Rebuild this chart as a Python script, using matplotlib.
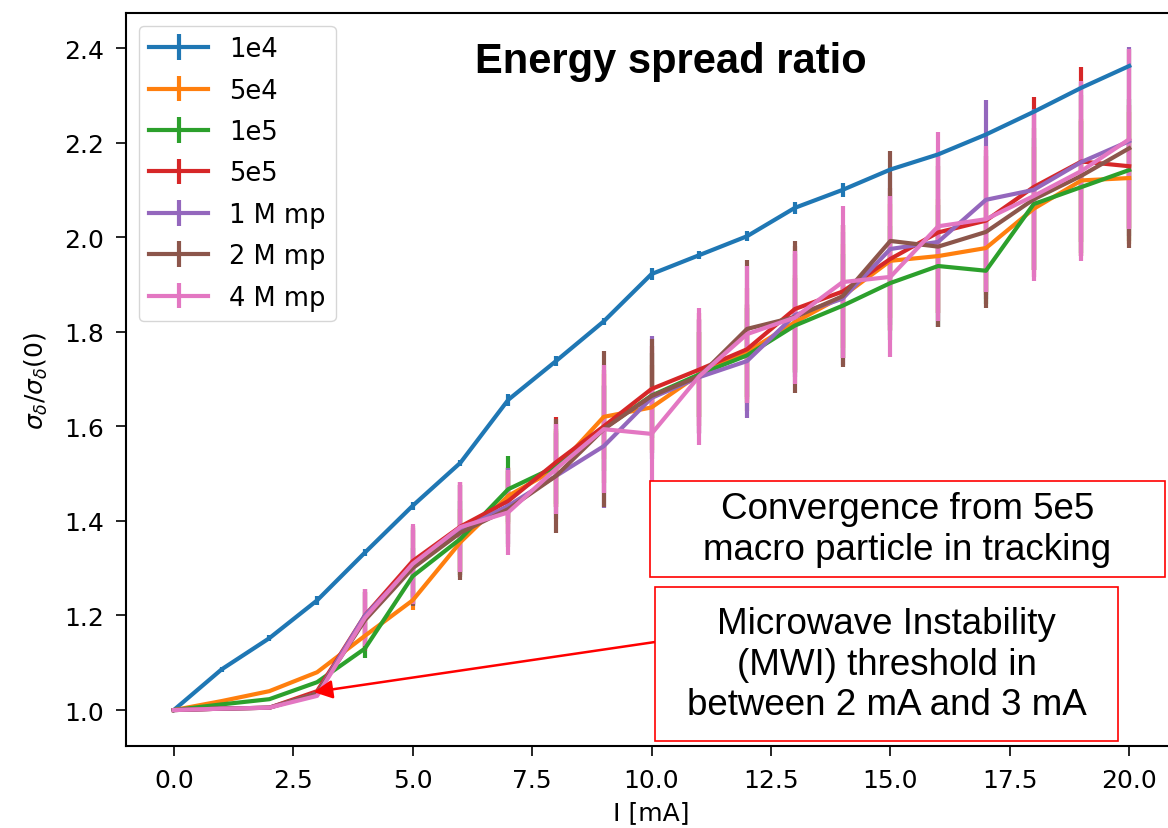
import numpy as np
import matplotlib
matplotlib.use('Agg')
import matplotlib.pyplot as plt
from matplotlib.patches import Rectangle

# beam current (mA)
current = np.arange(0, 21)

labels = ['1e4', '5e4', '1e5', '5e5', '1 M mp', '2 M mp', '4 M mp']

# energy spread ratio for each number of macro particles
r_1e4 = [1.000, 1.086, 1.152, 1.232, 1.333, 1.432, 1.523, 1.656, 1.738, 1.822, 1.922,
         1.962, 2.002, 2.062, 2.100, 2.143, 2.175, 2.217, 2.265, 2.316, 2.362]
r_5e4 = [1.000, 1.019, 1.040, 1.080, 1.157, 1.232, 1.355, 1.453, 1.510, 1.620, 1.640,
         1.710, 1.757, 1.820, 1.875, 1.950, 1.960, 1.977, 2.060, 2.120, 2.125]
r_1e5 = [1.000, 1.012, 1.023, 1.059, 1.130, 1.283, 1.362, 1.467, 1.515, 1.595, 1.665,
         1.710, 1.750, 1.813, 1.855, 1.903, 1.939, 1.929, 2.070, 2.106, 2.142]
r_5e5 = [1.000, 1.003, 1.005, 1.040, 1.200, 1.315, 1.388, 1.442, 1.524, 1.600, 1.679,
         1.720, 1.763, 1.848, 1.885, 1.954, 2.010, 2.035, 2.106, 2.160, 2.150]
r_1M = [1.000, 1.003, 1.005, 1.035, 1.200, 1.305, 1.380, 1.432, 1.495, 1.558, 1.660,
        1.704, 1.738, 1.835, 1.870, 1.975, 1.990, 2.079, 2.100, 2.159, 2.203]
r_2M = [1.000, 1.003, 1.005, 1.035, 1.190, 1.300, 1.375, 1.425, 1.495, 1.594, 1.664,
        1.706, 1.806, 1.831, 1.875, 1.992, 1.980, 2.011, 2.080, 2.130, 2.188]
r_4M = [1.000, 1.003, 1.005, 1.030, 1.195, 1.309, 1.387, 1.418, 1.510, 1.594, 1.584,
        1.706, 1.795, 1.830, 1.905, 1.916, 2.023, 2.038, 2.087, 2.140, 2.207]

# error bars (std)
e_1e4 = [0.003, 0.006, 0.006, 0.010, 0.008, 0.008, 0.006, 0.013, 0.010, 0.008, 0.012,
         0.008, 0.010, 0.012, 0.015, 0.004, 0.004, 0.004, 0.003, 0.003, 0.003]
e_5e4 = [0, 0, 0, 0, 0.03, 0.02, 0.07, 0.06, 0.08, 0.09, 0.09,
         0.09, 0.10, 0.10, 0.11, 0.12, 0.12, 0.10, 0.13, 0.13, 0.14]
e_1e5 = [0, 0, 0, 0, 0.02, 0.06, 0.08, 0.07, 0.08, 0.09, 0.09,
         0.09, 0.10, 0.10, 0.11, 0.12, 0.13, 0.07, 0.14, 0.14, 0.15]
e_5e5 = [0, 0, 0, 0, 0.05, 0.075, 0.095, 0.07, 0.095, 0.12, 0.09,
         0.12, 0.13, 0.133, 0.14, 0.15, 0.17, 0.15, 0.19, 0.20, 0.13]
e_1M = [0, 0, 0, 0, 0.05, 0.08, 0.095, 0.08, 0.09, 0.13, 0.13,
        0.12, 0.12, 0.13, 0.14, 0.16, 0.18, 0.21, 0.17, 0.17, 0.20]
e_2M = [0, 0, 0, 0, 0.066, 0.08, 0.10, 0.08, 0.12, 0.165, 0.12,
        0.12, 0.145, 0.16, 0.15, 0.19, 0.17, 0.16, 0.15, 0.17, 0.21]
e_4M = [0, 0, 0, 0, 0.06, 0.085, 0.095, 0.09, 0.095, 0.135, 0.10,
        0.145, 0.145, 0.14, 0.16, 0.17, 0.20, 0.155, 0.18, 0.19, 0.19]

ratios = [r_1e4, r_5e4, r_1e5, r_5e5, r_1M, r_2M, r_4M]
errors = [e_1e4, e_5e4, e_1e5, e_5e5, e_1M, e_2M, e_4M]

fig = plt.figure(figsize=(11.68, 8.29), dpi=100)
ax = fig.add_axes([0.1079, 0.0989, 0.8998, 0.8842])

for r, e, lab in zip(ratios, errors, labels):
    ax.errorbar(current, r, yerr=e, lw=3.0, elinewidth=3.0, label=lab)

ax.set_xlim(-1, 21)
ax.set_ylim(0.924, 2.474)
ax.set_xticks(np.arange(0, 20.1, 2.5))
ax.set_yticks(np.arange(1.0, 2.41, 0.2))
ax.tick_params(labelsize=18, length=7, width=1.2, pad=9)
for s in ax.spines.values():
    s.set_linewidth(1.5)

ax.set_xlabel('I [mA]', fontsize=18, labelpad=6)
ax.set_ylabel(r'$\sigma_\delta/\sigma_\delta(0)$', fontsize=18, labelpad=10)
ax.legend(loc='upper left', fontsize=18.5, handlelength=2.3, labelspacing=0.6)

fig.text(0.5745, 0.9252, 'Energy spread ratio', fontsize=30, fontweight='bold',
         family='Liberation Sans', ha='center', va='center')

# annotation boxes
fig.add_artist(Rectangle((0.5565, 0.3028), 0.4409, 0.1158, transform=fig.transFigure,
                         facecolor='white', edgecolor='red', lw=1.2))
fig.text(0.777, 0.3607, 'Convergence from 5e5\nmacro particle in tracking', fontsize=26.5,
         family='Liberation Sans', ha='center', va='center', linespacing=1.2)

fig.add_artist(Rectangle((0.5608, 0.1049), 0.3964, 0.1858, transform=fig.transFigure,
                         facecolor='white', edgecolor='red', lw=1.2))
fig.text(0.759, 0.1978, 'Microwave Instability\n(MWI) threshold in\nbetween 2 mA and 3 mA',
         fontsize=26.5, family='Liberation Sans', ha='center', va='center', linespacing=1.2)

ax.annotate('', xy=(2.93, 1.038), xycoords='data', xytext=(655, 186),
            textcoords='figure pixels', annotation_clip=False,
            arrowprops=dict(arrowstyle='-|>', color='red', lw=1.8, mutation_scale=28,
                            shrinkA=0, shrinkB=0))

fig.savefig('out.png', dpi=100)
